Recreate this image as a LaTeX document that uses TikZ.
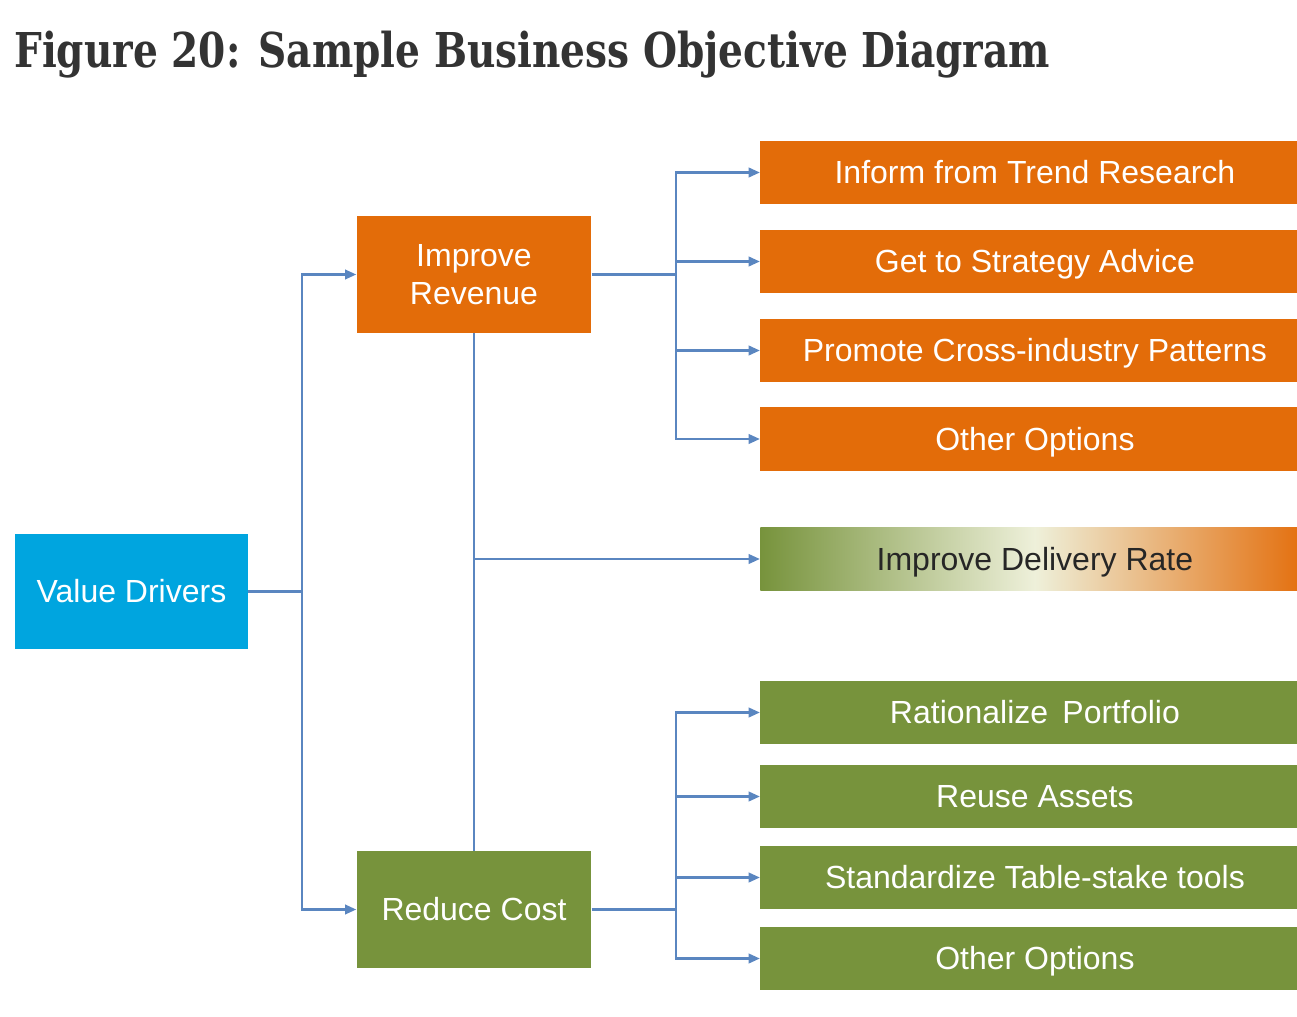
\documentclass[tikz,border=0pt]{standalone}
\usepackage{fontspec}
\setmainfont{Liberation Sans}
\newfontfamily\headfont{DejaVu Serif}
\usepackage{graphicx}
\usetikzlibrary{arrows.meta}

\definecolor{driverblue}{HTML}{00A5DF}
\definecolor{boxorange}{HTML}{E36C09}
\definecolor{boxgreen}{HTML}{77933C}
\definecolor{palecream}{HTML}{EEF0DA}
\definecolor{linkblue}{HTML}{5A86C0}
\definecolor{headgray}{HTML}{333333}

\begin{document}
\begin{tikzpicture}[x=0.75pt,y=-0.75pt,>={Triangle[length=8.5pt,width=7pt]},
    box/.style={rectangle,inner sep=0pt,text=white,align=center,font=\fontsize{24}{28.5}\selectfont},
    driver/.style={box,fill=driverblue,minimum width=175pt,minimum height=86pt},
    goal/.style={box,minimum width=176pt,minimum height=88pt},
    leaf/.style={box,anchor=west,minimum width=412pt,minimum height=47.5pt,text height=17pt,text depth=0pt},
    link/.style={draw=linkblue,line width=2pt}]

    \clip (0,0) rectangle (1297,1017);

    \node[anchor=base west,inner sep=0pt,text=headgray] (head) at (14,67)
        {\resizebox{777pt}{\height}{\headfont\bfseries\fontsize{36}{40}\selectfont Figure 20: Sample Business Objective Diagram}};

    % left side
    \node[driver] (value) at (131.5,591.5) {Value Drivers};
    \node[goal,fill=boxorange] (revenue) at (474,274.5) {Improve\\Revenue};
    \node[goal,fill=boxgreen] (cost) at (474,909.5) {Reduce Cost};

    % revenue options
    \node[leaf,fill=boxorange] (trend) at (760,172.5) {Inform from Trend Research};
    \node[leaf,fill=boxorange] (advice) at (760,261.5) {Get to Strategy Advice};
    \node[leaf,fill=boxorange] (patterns) at (760,350.5) {Promote Cross-industry Patterns};
    \node[leaf,fill=boxorange] (revother) at (760,439) {Other Options};

    % shared goal
    \node[leaf,left color=boxgreen,right color=boxorange,middle color=palecream,text=black!85] (rate) at (760,559) {Improve Delivery Rate};

    % cost options
    \node[leaf,fill=boxgreen] (portfolio) at (760,712.5) {Rationalize\, Portfolio};
    \node[leaf,fill=boxgreen] (assets) at (760,796.5) {Reuse Assets};
    \node[leaf,fill=boxgreen] (tools) at (760,877.5) {Standardize Table-stake tools};
    \node[leaf,fill=boxgreen] (costother) at (760,958.5) {Other Options};

    \coordinate (trunk) at (302,591.5);
    \coordinate (revfork) at (676,274.5);
    \coordinate (ratefork) at (474,559);
    \coordinate (costfork) at (676,909.5);

    \draw[link] (value) -- (trunk);
    \draw[link,->] (trunk) |- (revenue);
    \draw[link,->] (trunk) |- (cost);

    \draw[link] (revenue) -- (revfork);
    \draw[link,->] (revfork) |- (trend);
    \draw[link,->] (revfork) |- (advice);
    \draw[link,->] (revfork) |- (patterns);
    \draw[link,->] (revfork) |- (revother);

    \draw[link] (revenue) -- (cost);
    \draw[link,->] (ratefork) -- (rate);

    \draw[link] (cost) -- (costfork);
    \draw[link,->] (costfork) |- (portfolio);
    \draw[link,->] (costfork) |- (assets);
    \draw[link,->] (costfork) |- (tools);
    \draw[link,->] (costfork) |- (costother);
\end{tikzpicture}
\end{document}
